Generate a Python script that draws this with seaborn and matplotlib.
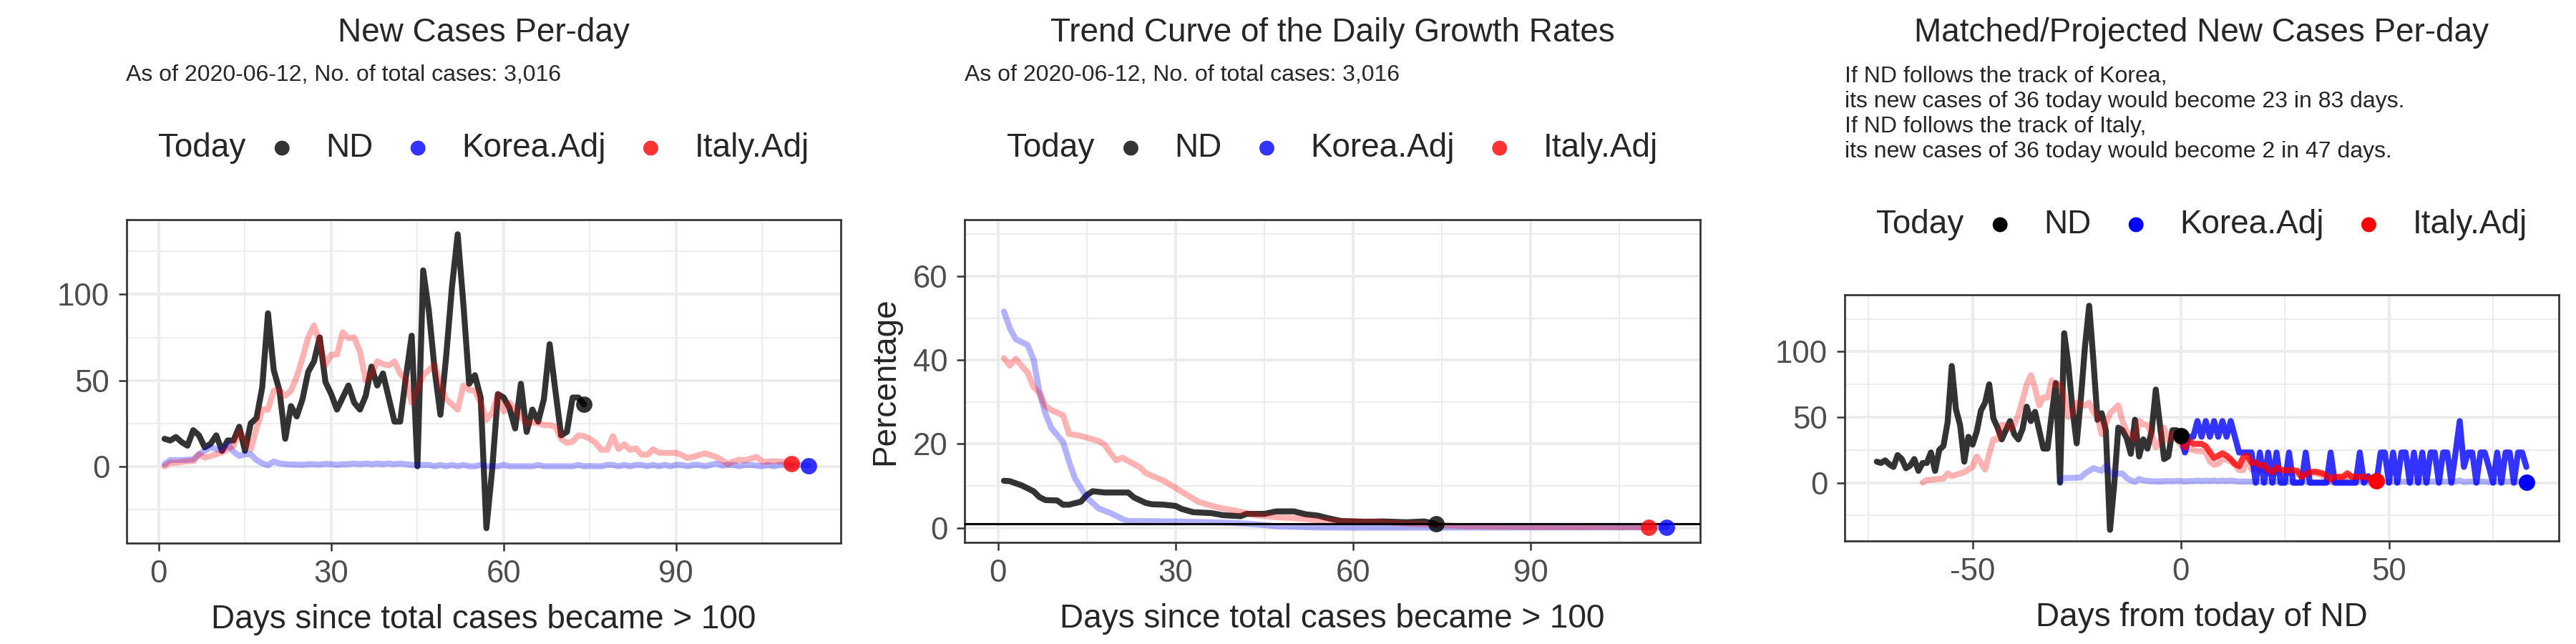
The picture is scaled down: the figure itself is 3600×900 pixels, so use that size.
import seaborn as sns
import matplotlib.pyplot as plt
from matplotlib.ticker import MultipleLocator
from matplotlib.offsetbox import AnchoredOffsetbox, HPacker, TextArea, DrawingArea
from matplotlib.patches import Circle

# ---- data ----

# new cases per day, days since total cases > 100
nd_new = [16, 15, 17, 14, 12, 21, 18, 11, 13, 18,
          9, 15, 15, 23, 9, 25, 28, 46, 89, 56,
          44, 16, 35, 29, 39, 55, 61, 75, 49, 42,
          33, 40, 47, 37, 33, 41, 58, 47, 54, 40,
          26, 26, 52, 76, 0, 114, 90, 56, 30, 64,
          104, 135, 94, 48, 53, 40, -36, -2, 42, 40,
          34, 22, 48, 20, 33, 26, 39, 71, 44, 18,
          20, 40, 40, 36]

korea_adj = [1.3, 3.6, 3.6, 3.6, 3.8, 4, 7, 9, 11, 10,
             9, 13, 8.5, 6, 7, 7, 3.6, 1.7, 0.6, 2.8,
             1.7, 1.3, 1, 1, 0.8, 1.2, 1.2, 1, 1.4, 1.2,
             0.8, 1.2, 1.2, 1.6, 1.2, 1.6, 1.2, 1.6, 1.2, 1.6,
             1.2, 1.6, 1.2, 0.8, 0.8, 0.8, 0.8, 0, 0.8, 0,
             0.8, 0, 0.8, 0, 0, 0.8, 0, 0, 0, 0.8,
             0, 0, 0, 0, 0, 0.8, 0, 0, 0, 0,
             0, 0, 0.8, 0, 0.2, 0, 0, 0.8, 0.8, 0,
             0.8, 0, 0.8, 0.8, 0, 0.8, 0, 0.8, 0, 0.8,
             0.8, 0, 0.8, 0.8, 0, 0.8, 1.6, 0.4, 0.8, 0.8,
             0, 0.8, 0.8, 0.4, 0, 0.8, 0, 0.8, 0.8, 0,
             0.8, 0.8, 0.4]

italy_adj = [0, 2, 2, 2.5, 3, 3, 7, 5, 6, 7,
             8, 10, 12, 20, 15, 10, 22, 33, 33, 44,
             44, 41, 44, 52, 63, 75, 82, 72, 59, 65,
             65, 78, 74.5, 75, 66.6, 50, 53, 61, 59.5, 58.7,
             61, 54, 50, 37, 45, 53, 56, 59, 47, 39,
             36, 33, 47, 44.5, 44, 37, 27, 31, 42, 32,
             37, 33, 28.6, 24.7, 25.5, 25, 24, 24, 23, 16,
             13.6, 14.4, 18, 17.5, 16, 13.6, 9.6, 9.6, 17.5, 10,
             12.8, 9.6, 10.4, 6.8, 6.8, 9.8, 8, 7.8, 7.8, 7.8,
             6.5, 4.8, 5.5, 6.5, 7.5, 6.5, 5.4, 3.5, 1.3, 2.8,
             3.8, 3.4, 4.5, 5.4, 2.7, 2.7, 3, 2.7, 2.5, 1.6]

# trend curve of daily growth rates (%)
nd_gr_days = [1, 2, 4, 6, 7, 8, 10, 11, 12, 14,
              15, 16, 18, 22, 23, 25, 26, 28, 30, 31,
              33, 36, 38, 41, 42, 45, 47, 50, 52, 54,
              56, 58, 62, 65, 69, 72, 74]
nd_gr = [11.2, 11.1, 10.1, 8.7, 7.3, 6.6, 6.5, 5.5, 5.5, 6.2,
         7.8, 8.7, 8.4, 8.4, 7.2, 5.9, 5.6, 5.5, 5.2, 4.5,
         3.7, 3.5, 3.0, 2.75, 3.3, 3.3, 3.9, 3.9, 3.2, 2.9,
         2.2, 1.6, 1.4, 1.5, 1.3, 1.5, 0.9]

korea_gr_days = [1, 2, 3, 5, 6, 7, 8, 9, 11, 12,
                 13, 14, 15, 17, 19, 21, 22, 30, 39, 43,
                 47, 54, 60, 113]
korea_gr = [51.6, 47.6, 45.0, 43.6, 40.2, 32.4, 27.3, 23.8, 20.4, 15.8,
            11.8, 9.5, 7.2, 4.6, 3.5, 2.1, 1.6, 1.5, 1.2, 0.9,
            0.35, 0.05, 0, 0.1]

italy_gr_days = [1, 2, 3, 5, 6, 7, 8, 9, 11, 12,
                 14, 17, 18, 19, 20, 21, 24, 25, 28, 30,
                 33, 34, 37, 41, 44, 47, 50, 54, 58, 63,
                 69, 74, 78, 87, 97, 110]
italy_gr = [40.5, 38.7, 40.3, 37, 33.6, 32.1, 29, 28.1, 26.8, 22.4,
            21.9, 20.7, 19.8, 17.8, 16.1, 16.7, 14.4, 13, 11.2, 9.5,
            6.9, 6.1, 4.9, 3.8, 2.9, 2.5, 2.3, 1.8, 1.6, 1.5,
            1.0, 0.7, 0.4, 0.2, 0.15, 0.1]
gr_ref_line = 0.9

# projections, days from today of ND
korea_match_day = 30
italy_match_day = 63
korea_proj = [36, 23, 35, 35, 47, 35, 47, 35, 47, 35,
              47, 35, 47, 35, 23, 23, 23, 23, 0, 23,
              0, 23, 0, 23, 0, 0, 23, 0, 0, 0,
              23, 0, 0, 0, 0, 0, 23, 0, 0, 0,
              0, 0, 0, 23, 0, 5, 0, 0, 23, 23,
              0, 23, 0, 23, 23, 0, 23, 0, 23, 0,
              23, 23, 0, 23, 23, 0, 23, 47, 12, 23,
              23, 0, 23, 23, 12, 0, 23, 0, 23, 23,
              0, 23, 23, 12]
italy_proj = [35, 27, 32, 29.6, 29.6, 29.6, 27.8, 23.3, 18.8, 20.6,
              22.4, 20.6, 17.9, 14.3, 12.5, 19.5, 20.6, 15.2, 15.2, 13.4,
              13.4, 9.9, 8, 11.6, 9.9, 9.5, 9.5, 9.5, 9, 4.5,
              6.3, 8, 8.4, 8, 7.2, 5.4, 2.7, 4.5, 4.5, 4.5,
              7.2, 4.5, 4.5, 4.5, 4.5, 3.6, 2.7, 1.8]

series_names = ["ND", "Korea.Adj", "Italy.Adj"]
subtitle = "As of 2020-06-12, No. of total cases: 3,016"
proj_notes = ["If ND follows the track of Korea,",
              "its new cases of 36 today would become 23 in 83 days.",
              "If ND follows the track of Italy,",
              "its new cases of 36 today would become 2 in 47 days."]

nd_days = list(range(1, len(nd_new) + 1))
korea_days = list(range(1, len(korea_adj) + 1))
italy_days = list(range(1, len(italy_adj) + 1))
today = nd_days[-1]

# ---- style ----
sns.set_style("white")
plt.rcParams["font.family"] = ["Liberation Sans", "DejaVu Sans"]
plt.rcParams["axes.unicode_minus"] = False

LW = 2.0
DOT = 30
grid_c = "#EBEBEB"


def style_axes(ax, xlim, ylim, xmaj, ymaj):
    ax.set_xlim(*xlim)
    ax.set_ylim(*ylim)
    ax.xaxis.set_major_locator(MultipleLocator(xmaj))
    ax.xaxis.set_minor_locator(MultipleLocator(xmaj / 2))
    ax.yaxis.set_major_locator(MultipleLocator(ymaj))
    ax.yaxis.set_minor_locator(MultipleLocator(ymaj / 2))
    ax.grid(which="major", color=grid_c, lw=0.9)
    ax.grid(which="minor", color=grid_c, lw=0.45)
    ax.set_axisbelow(True)
    for s in ax.spines.values():
        s.set_color("#333333")
        s.set_linewidth(0.65)
    ax.tick_params(which="major", length=2.6, width=0.6, color="#333333",
                   labelsize=10.5, labelcolor="#4D4D4D", pad=3, left=True, bottom=True)
    ax.tick_params(which="minor", length=0)


def add_legend(fig, xc, yc, colors):
    def spacer(w):
        return DrawingArea(w, 1, 0, 0)

    def dot(c):
        da = DrawingArea(6, 6, 0, 0)
        da.add_artist(Circle((3, 3), 2.5, color=c, lw=0))
        return da

    kids = [TextArea("Today", textprops=dict(size=11)), spacer(9.2)]
    for i, (name, c) in enumerate(zip(series_names, colors)):
        kids += [dot(c), spacer(11.6), TextArea(name, textprops=dict(size=11))]
        if i < len(series_names) - 1:
            kids.append(spacer(12.1))
    box = AnchoredOffsetbox(loc="center", child=HPacker(children=kids, sep=0, pad=0, align="center"),
                            pad=0, borderpad=0, frameon=False,
                            bbox_to_anchor=(xc, yc), bbox_transform=fig.transFigure)
    fig.add_artist(box)


W, H = 3600, 900
fig = plt.figure(figsize=(12, 3), dpi=300)


def px_axes(l, t, r, b):
    return fig.add_axes([l / W, 1 - b / H, (r - l) / W, (b - t) / H])


ax1 = px_axes(176.5, 307, 1175, 758.5)
ax2 = px_axes(1348, 307, 2376, 758)
ax3 = px_axes(2577.5, 411.7, 3576, 756)

faded = ["#333333", "#3333FF", "#FF3333"]
solid = ["black", "blue", "red"]

# ---- panel 1: new cases per day ----
sns.lineplot(x=nd_days, y=nd_new, ax=ax1, color="black", alpha=0.8, lw=LW)
sns.lineplot(x=korea_days, y=korea_adj, ax=ax1, color="blue", alpha=0.3, lw=LW)
sns.lineplot(x=italy_days, y=italy_adj, ax=ax1, color="red", alpha=0.3, lw=LW)
sns.scatterplot(x=[today], y=[nd_new[-1]], ax=ax1, color="black", alpha=0.8, s=DOT, lw=0, zorder=5)
sns.scatterplot(x=[italy_days[-1]], y=[italy_adj[-1]], ax=ax1, color="red", alpha=0.8, s=DOT, lw=0, zorder=5)
sns.scatterplot(x=[korea_days[-1]], y=[korea_adj[-1]], ax=ax1, color="blue", alpha=0.8, s=DOT, lw=0, zorder=5)
style_axes(ax1, (-5.65, 118.65), (-44.5, 143.5), 30, 50)
ax1.set_xlabel("Days since total cases became > 100", fontsize=11, labelpad=5)
ax1.set_ylabel("")

# ---- panel 2: growth-rate trend ----
ax2.axhline(gr_ref_line, color="black", lw=0.75, zorder=4)
sns.lineplot(x=nd_gr_days, y=nd_gr, ax=ax2, color="black", alpha=0.8, lw=LW)
sns.lineplot(x=korea_gr_days, y=korea_gr, ax=ax2, color="blue", alpha=0.3, lw=LW)
sns.lineplot(x=italy_gr_days, y=italy_gr, ax=ax2, color="red", alpha=0.3, lw=LW)
sns.scatterplot(x=[nd_gr_days[-1]], y=[nd_gr[-1]], ax=ax2, color="black", alpha=0.8, s=DOT, lw=0, zorder=5)
sns.scatterplot(x=[italy_gr_days[-1]], y=[italy_gr[-1]], ax=ax2, color="red", alpha=0.8, s=DOT, lw=0, zorder=5)
sns.scatterplot(x=[korea_gr_days[-1]], y=[korea_gr[-1]], ax=ax2, color="blue", alpha=0.8, s=DOT, lw=0, zorder=5)
style_axes(ax2, (-5.65, 118.65), (-3.5, 73.5), 30, 20)
ax2.set_xlabel("Days since total cases became > 100", fontsize=11, labelpad=5)
ax2.set_ylabel("Percentage", fontsize=11, labelpad=4)

# ---- panel 3: matched / projected ----
nd_x = [d - today for d in nd_days]
korea_x = [d - korea_match_day for d in korea_days]
italy_x = [d - italy_match_day for d in italy_days]
korea_proj_x = list(range(len(korea_proj)))
italy_proj_x = list(range(len(italy_proj)))

sns.lineplot(x=nd_x, y=nd_new, ax=ax3, color="black", alpha=0.8, lw=LW)
sns.lineplot(x=korea_x, y=korea_adj, ax=ax3, color="blue", alpha=0.3, lw=LW)
sns.lineplot(x=italy_x, y=italy_adj, ax=ax3, color="red", alpha=0.3, lw=LW)
sns.lineplot(x=korea_proj_x, y=korea_proj, ax=ax3, color="blue", alpha=0.8, lw=LW)
sns.lineplot(x=italy_proj_x, y=italy_proj, ax=ax3, color="red", alpha=0.8, lw=LW)
sns.scatterplot(x=[0], y=[nd_new[-1]], ax=ax3, color="black", s=DOT, lw=0, zorder=5)
sns.scatterplot(x=[italy_x[-1]], y=[italy_adj[-1]], ax=ax3, color="red", s=DOT, lw=0, zorder=5)
sns.scatterplot(x=[korea_x[-1]], y=[korea_adj[-1]], ax=ax3, color="blue", s=DOT, lw=0, zorder=5)
style_axes(ax3, (-80.8, 90.8), (-44.5, 143.5), 50, 50)
ax3.set_xlabel("Days from today of ND", fontsize=11, labelpad=5)
ax3.set_ylabel("")

# ---- titles, subtitles, legends ----
titles = ["New Cases Per-day", "Trend Curve of the Daily Growth Rates",
          "Matched/Projected New Cases Per-day"]
for ax, title in zip([ax1, ax2, ax3], titles):
    pos = ax.get_position()
    fig.text((pos.x0 + pos.x1) / 2, 1 - 58 / H, title, ha="center", va="baseline", fontsize=11)

for ax in [ax1, ax2]:
    pos = ax.get_position()
    fig.text(pos.x0, 1 - 113 / H, subtitle, ha="left", va="baseline", fontsize=7.7)
    add_legend(fig, (pos.x0 + pos.x1) / 2, 1 - 207 / H, faded)

pos = ax3.get_position()
for line, base in zip(proj_notes, [115, 150, 185, 220]):
    fig.text(pos.x0, 1 - base / H, line, ha="left", va="baseline", fontsize=7.7)
add_legend(fig, (pos.x0 + pos.x1) / 2, 1 - 314 / H, solid)

fig.savefig("out.png", dpi=300)
